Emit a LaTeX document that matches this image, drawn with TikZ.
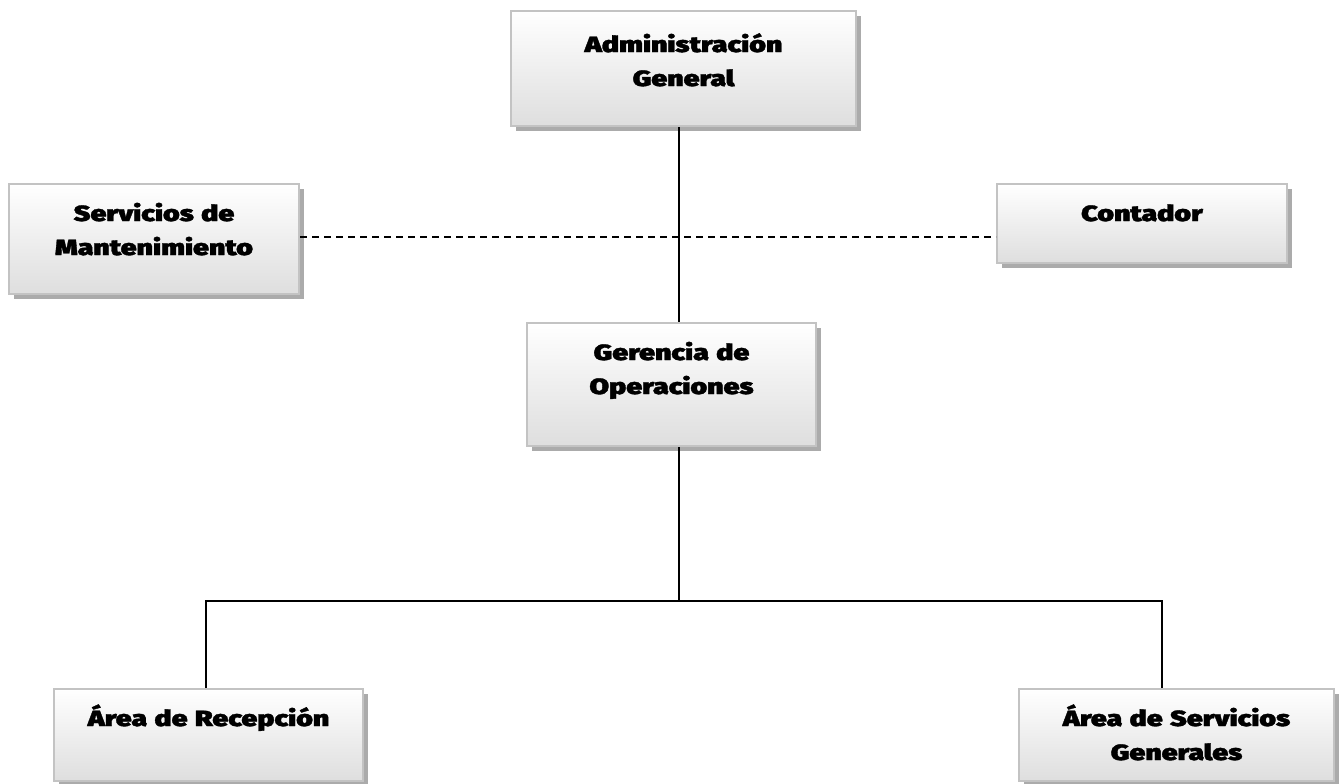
\documentclass[tikz,border=0pt]{standalone}
\usepackage{fontspec}
\usetikzlibrary{shadows}
\newfontfamily\heavyfont{Fira Sans Black}[FakeStretch=1.3,FakeBold=1.5]
\definecolor{boxline}{RGB}{195,195,195}
\definecolor{boxfoot}{RGB}{222,222,222}
\definecolor{shade}{RGB}{150,150,150}
\tikzset{
  unit/.style={anchor=north west,draw=boxline,line width=1pt,
    top color=white,bottom color=boxfoot,
    drop shadow={shadow xshift=2.5pt,shadow yshift=-2.5pt,fill=shade,opacity=.8},
    inner xsep=0pt,inner ysep=0pt,align=center,text height=18.5pt,
    font=\heavyfont\fontsize{11}{17}\selectfont},
  link/.style={line width=.75pt},
  staff/.style={line width=.75pt,dash pattern=on 3.5pt off 2.5pt},
}

\begin{document}
\begin{tikzpicture}[x=0.5pt,y=-0.5pt]
\useasboundingbox (0,0) rectangle (1339,783);
% boxes, top left corners
\node[unit,text width=172.5pt,text height=20.5pt,text depth=37pt] (admin) at (510,10) {Administración\\General};
\node[unit,text width=145pt,text depth=36.5pt] (mant) at (8,183) {Servicios de\\Mantenimiento};
\node[unit,text width=145pt,text depth=21pt] (cont) at (996,183) {Contador};
\node[unit,text width=144.5pt,text depth=43pt] (ger) at (526,322) {Gerencia de\\Operaciones};
\node[unit,text width=154.5pt,text depth=27.5pt] (recep) at (53,688) {Área de Recepción};
\node[unit,text width=157.5pt,text depth=27.5pt] (servg) at (1018,688) {Área de Servicios\\Generales};
% connectors
\coordinate (split) at (679,601);
\draw[link] (admin.south -| split) -- (ger.north -| split);
\draw[staff] ([yshift=1pt]mant.east) -- ([yshift=1pt]mant.east -| cont.west);
\draw[link] (ger.south -| split) -- (split);
\draw[link] (recep.north -| 206,0) |- (split) -| (servg.north -| 1162,0);
\end{tikzpicture}
\end{document}
